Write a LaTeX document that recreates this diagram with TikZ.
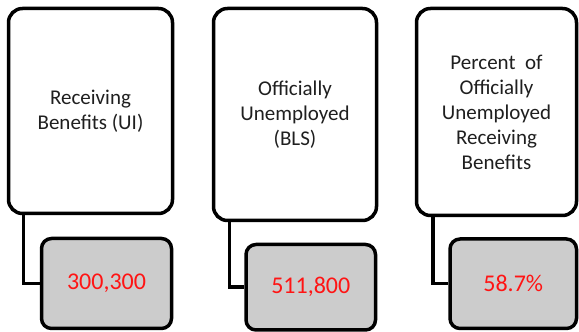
\documentclass[tikz,border=0pt]{standalone}
\usepackage{fontspec}
\setmainfont{Carlito}
\begin{document}
\begin{tikzpicture}[x=1pt,y=1pt,
  topbox/.style={draw=black, line width=3.5pt, rounded corners=14pt, fill=white,
    minimum width=#1, inner sep=0pt, align=center, text=black!88,
    font=\fontsize{21}{25}\selectfont},
  valbox/.style={draw=black, line width=3.5pt, rounded corners=10pt, fill=black!20,
    inner sep=0pt, text={rgb,255:red,255;green,20;blue,20},
    font=\fontsize{24}{28}\selectfont},
  link/.style={draw=black, line width=3.5pt}]
\useasboundingbox (0,0) rectangle (579,332);
\node[topbox=164pt, minimum height=205pt] (b1) at (90.5,221) {Receiving\\Benefits (UI)};
\node[topbox=163pt, minimum height=212pt] (b2) at (295,217.5) {Officially\\Unemployed\\(BLS)};
\node[topbox=160pt, minimum height=207pt] (b3) at (496.5,220) {Percent\ \ of\\Officially\\Unemployed\\Receiving\\Benefits};
\node[valbox, minimum width=130pt, minimum height=90pt] (v1) at (106.5,48.5) {300,300};
\node[valbox, minimum width=129.5pt, minimum height=85.5pt] (v2) at (310.75,44.75) {511,800};
\node[valbox, minimum width=126.5pt, minimum height=89.5pt] (v3) at (513.25,48.25) {58.7\%};
\draw[link] ([xshift=16.5pt]b1.south west) |- (v1.west);
\draw[link] ([xshift=17.5pt]b2.south west) |- (v2.west);
\draw[link] ([xshift=18pt]b3.south west) |- (v3.west);
\end{tikzpicture}
\end{document}
